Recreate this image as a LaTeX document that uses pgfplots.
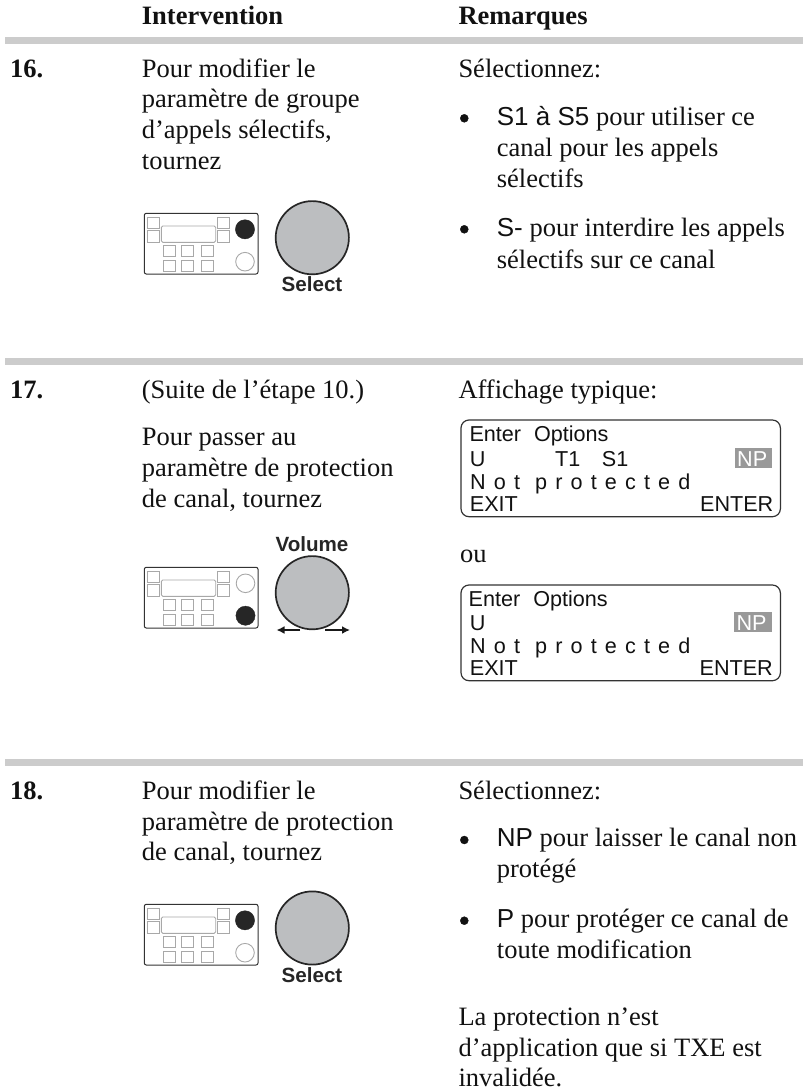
\documentclass[border=0pt]{standalone}
\usepackage{fontspec}
\setmainfont{Liberation Serif}
\newfontfamily\arial{Liberation Sans}
\usepackage{pgfplots}
\usetikzlibrary{arrows.meta}
\pgfplotsset{compat=1.18}
\definecolor{rule}{HTML}{CCCCCC}
\definecolor{ink}{HTML}{111111}
\definecolor{knob}{HTML}{BCBEC0}
\definecolor{pale}{HTML}{A8A8A8}
\definecolor{npbox}{HTML}{999999}
\newcommand\fT{\fontsize{26.5}{30}\selectfont}
\newcommand\fS{\fontsize{26}{30}\selectfont\arial}
\newcommand\fD{\fontsize{21.6}{26}\selectfont\arial}
\newcommand\fK{\fontsize{20.6}{24}\selectfont\arial\bfseries}
\newcommand\T[3]{\node[anchor=base west,inner sep=0pt,text=ink,font=\fT] at (axis cs:#1,#2) {#3};}
\newcommand\B[3]{\node[anchor=base west,inner sep=0pt,text=ink,font=\fT\bfseries] at (axis cs:#1,#2) {#3};}
\newcommand\D[3]{\node[anchor=base west,inner sep=0pt,text=ink,font=\fD] at (axis cs:#1,#2) {#3};}
\newcommand\g{\hspace{8.15pt}}
\newcommand\nott{N\g o\g t\hspace{15pt}p\g r\g o\g t\g e\g c\g t\g e\g d}
\newcommand\sq[3]{\draw[pale,line width=0.9pt] (axis cs:#1,{#3}) rectangle (axis cs:#2,{#3+11.6});}
\newcommand\panel[1]{%
 \draw[black!80,line width=1pt,rounded corners=2pt] (axis cs:144.3,{#1+213.3}) rectangle (axis cs:258,{#1+274});
 \sq{147.3}{159.3}{#1+217}\sq{147.3}{159.3}{#1+230.7}
 \sq{217.7}{229.7}{#1+217}\sq{217.7}{229.7}{#1+230.7}
 \draw[pale,line width=0.9pt,rounded corners=1.5pt] (axis cs:161.3,{#1+226}) rectangle (axis cs:215.7,{#1+242.3});
 \sq{163.3}{175.3}{#1+245}\sq{181.7}{193.7}{#1+245}\sq{201.7}{213.7}{#1+245}
 \sq{163.3}{175.3}{#1+260}\sq{181.7}{193.7}{#1+260}\sq{201.7}{213.7}{#1+260}
}
\newcommand\display[2]{% top, bottom
 \draw[black!80,line width=1.2pt,rounded corners=8pt] (axis cs:461,#1) rectangle (axis cs:780.4,#2);
}
\begin{document}
\begin{tikzpicture}[x=1pt,y=1pt]
\useasboundingbox (0,0) rectangle (810,1090);
\begin{axis}[at={(0,0)},anchor=south west,scale only axis,width=810pt,height=1090pt,
  xmin=0,xmax=810,ymin=0,ymax=1090,y dir=reverse,hide axis,clip=false]
% rules
\addplot[rule,line width=7pt,line cap=butt,forget plot] coordinates {(5,40.5) (803,40.5)};
\addplot[rule,line width=7pt,line cap=butt,forget plot] coordinates {(5,361.5) (803,361.5)};
\addplot[rule,line width=7pt,line cap=butt,forget plot] coordinates {(5,762.5) (803,762.5)};
% header
\B{141.7}{24}{Intervention}
\B{458.3}{24}{Remarques}
% row 16
\B{10}{77.3}{16.}
\T{141.7}{77}{Pour modifier le}
\T{141.7}{107.5}{paramètre de groupe}
\T{141.7}{138.3}{d’appels sélectifs,}
\T{141.7}{169}{tournez}
\T{458.3}{77}{Sélectionnez:}
\node[anchor=base west,inner sep=0pt,text=ink,font=\fT] at (axis cs:496.7,125) {{\fS S1 à S5} pour utiliser ce};
\T{496.7}{156}{canal pour les appels}
\T{496.7}{187.3}{sélectifs}
\node[anchor=base west,inner sep=0pt,text=ink,font=\fT] at (axis cs:496.7,236.7) {{\fS S-} pour interdire les appels};
\T{496.7}{268.3}{sélectifs sur ce canal}
% row 17
\B{10}{398.3}{17.}
\T{141.7}{398.3}{(Suite de l’étape 10.)}
\T{141.7}{445}{Pour passer au}
\T{141.7}{476}{paramètre de protection}
\T{141.7}{507.7}{de canal, tournez}
\T{458.3}{398.3}{Affichage typique:}
\display{420}{516.7}
\D{469.3}{441.7}{Enter\hspace{13pt}Options}
\D{469.7}{466}{U}
\D{555}{466}{T1}
\D{601.7}{466}{S1}
\fill[npbox] (axis cs:735,448.3) rectangle (axis cs:772.3,468.3);
\node[anchor=base west,inner sep=0pt,text=white,font=\fD] at (axis cs:737,466) {NP};
\D{470}{489.3}{\nott}
\D{469.7}{511}{EXIT}
\node[anchor=base east,inner sep=0pt,text=ink,font=\fD] at (axis cs:773.5,511) {ENTER};
\T{460}{562.7}{ou}
\display{585}{680.7}
\D{468.5}{606.7}{Enter\hspace{13pt}Options}
\D{469.7}{630}{U}
\fill[npbox] (axis cs:734.3,612.3) rectangle (axis cs:771.7,632.3);
\node[anchor=base west,inner sep=0pt,text=white,font=\fD] at (axis cs:736.3,630) {NP};
\D{470}{653.3}{\nott}
\D{469.7}{675.7}{EXIT}
\node[anchor=base east,inner sep=0pt,text=ink,font=\fD] at (axis cs:773,675.7) {ENTER};
% row 18
\B{10}{799.3}{18.}
\T{141.7}{799.3}{Pour modifier le}
\T{141.7}{830}{paramètre de protection}
\T{141.7}{860.7}{de canal, tournez}
\T{458.3}{799.3}{Sélectionnez:}
\node[anchor=base west,inner sep=0pt,text=ink,font=\fT] at (axis cs:496.7,846.7) {{\fS NP} pour laisser le canal non};
\T{496.7}{877.3}{protégé}
\node[anchor=base west,inner sep=0pt,text=ink,font=\fT] at (axis cs:496.7,927.3) {{\fS P} pour protéger ce canal de};
\T{496.7}{958.3}{toute modification}
\T{458.3}{1025}{La protection n’est}
\T{458.3}{1056}{d’application que si TXE est}
\T{458.3}{1086.5}{invalidée.}
% bullets
\addplot[only marks,mark=*,mark size=4pt,ink,forget plot] coordinates {(464.3,118.3) (464.3,229.3) (464.3,840) (464.3,920.7)};
% radio panels
\panel{0}
\panel{354}
\panel{691}
% big knobs
\addplot[only marks,mark=*,mark size=36.6pt,mark options={fill=knob,draw=black!85,line width=1.7pt},forget plot]
  coordinates {(312.3,237.7) (312.3,592.7) (312.3,928)};
% dark knobs
\addplot[only marks,mark=*,mark size=9.6pt,mark options={fill=black!85,draw=black!85},forget plot]
  coordinates {(245,229.3) (245.5,615.7) (245,920.3)};
% open knobs
\addplot[only marks,mark=*,mark size=9.3pt,mark options={fill=white,draw=pale,line width=0.9pt},forget plot]
  coordinates {(245,261.7) (245.5,583.3) (245,952.7)};
% labels on knobs
\node[anchor=base,inner sep=0pt,text=black!85,font=\fK] at (axis cs:312,291.7) {Select};
\node[anchor=base,inner sep=0pt,text=black!85,font=\fK] at (axis cs:312,551.7) {Volume};
\node[anchor=base,inner sep=0pt,text=black!85,font=\fK] at (axis cs:312,982.7) {Select};
% arrows
\draw[-{Latex[length=8pt,width=8pt]},black!90,line width=1.6pt] (axis cs:300,630) -- (axis cs:276.5,630);
\draw[-{Latex[length=8pt,width=8pt]},black!90,line width=1.6pt] (axis cs:325,630) -- (axis cs:350,630);
\end{axis}
\end{tikzpicture}
\end{document}
